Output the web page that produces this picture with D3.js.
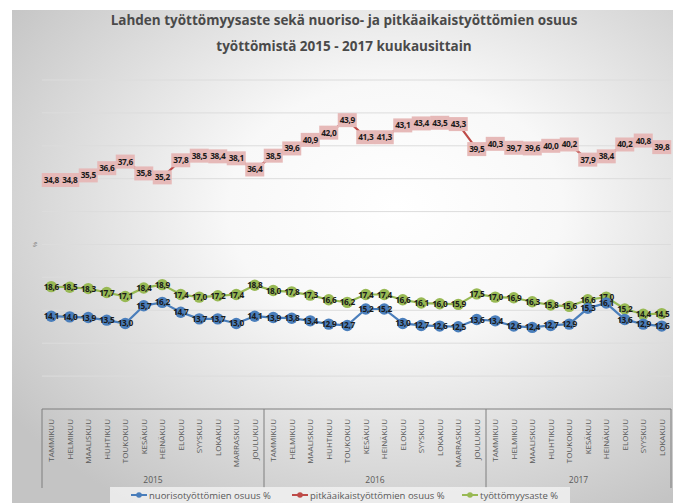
<!DOCTYPE html>
<html>
<head>
<meta charset="utf-8">
<script src="https://cdn.jsdelivr.net/npm/d3@7"></script>
<style>
  body { margin: 0; background: #fff; }
  svg text { font-family: "Open Sans", "Liberation Sans", sans-serif; }
</style>
</head>
<body>
<div id="chart"></div>
<script>
// data
var months = ["TAMMIKUU","HELMIKUU","MAALISKUU","HUHTIKUU","TOUKOKUU","KESÄKUU",
              "HEINÄKUU","ELOKUU","SYYSKUU","LOKAKUU","MARRASKUU","JOULUKUU"];
var years = ["2015", "2016", "2017"];
var monthsPerYear = [12, 12, 10];

var nuoriso = [14.1,14.0,13.9,13.5,13.0,15.7,16.2,14.7,13.7,13.7,13.0,14.1,
               13.9,13.8,13.4,12.9,12.7,15.2,15.2,13.0,12.7,12.6,12.5,13.6,
               13.4,12.6,12.4,12.7,12.9,15.3,16.1,13.6,12.9,12.6];
var pitkaaikais = [34.8,34.8,35.5,36.6,37.6,35.8,35.2,37.8,38.5,38.4,38.1,36.4,
                   38.5,39.6,40.9,42.0,43.9,41.3,41.3,43.1,43.4,43.5,43.3,39.5,
                   40.3,39.7,39.6,40.0,40.2,37.9,38.4,40.2,40.8,39.8];
var tyottomyys = [18.6,18.5,18.3,17.7,17.1,18.4,18.9,17.4,17.0,17.2,17.4,18.8,
                  18.0,17.8,17.3,16.6,16.2,17.4,17.4,16.6,16.1,16.0,15.9,17.5,
                  17.0,16.9,16.3,15.8,15.6,16.6,17.0,15.2,14.4,14.5];
var seriesNames = ["nuorisotyöttömien osuus %", "pitkäaikaistyöttömien osuus %", "työttömyysaste %"];

var width = 675, height = 503;
var plotLeft = 42, plotRight = 671, plotTop = 80, plotBottom = 409;

// build category list from months/years
var cats = [];
years.forEach(function(y, yi){
  for(var m = 0; m < monthsPerYear[yi]; m++){ cats.push({ year: y, month: months[m], key: y + "-" + m }); }
});

var svg = d3.select("#chart").append("svg")
  .attr("width", width).attr("height", height);

var defs = svg.append("defs");
var grad = defs.append("radialGradient").attr("id", "bg")
  .attr("cx", "58%").attr("cy", "40%").attr("r", "72%");
grad.append("stop").attr("offset", "0%").attr("stop-color", "#ffffff");
grad.append("stop").attr("offset", "35%").attr("stop-color", "#f8f8f8");
grad.append("stop").attr("offset", "100%").attr("stop-color", "#c4c4c4");

svg.append("rect").attr("x", 12).attr("y", 10)
  .attr("width", 661).attr("height", 493).attr("fill", "url(#bg)");

var x = d3.scaleBand().domain(cats.map(function(c){ return c.key; }))
  .range([plotLeft, plotRight]).padding(0);
var y = d3.scaleLinear().domain([0, 50]).range([plotBottom, plotTop]);

function cx(i){ return x(cats[i].key) + x.bandwidth() / 2; }
function fmt(v){ return d3.format(".1f")(v).replace(".", ","); }

// title
var title = svg.append("text").attr("text-anchor", "middle")
  .attr("font-size", 13.5).attr("font-weight", "bold").attr("fill", "#4a4a4a");
title.append("tspan").attr("x", 344).attr("y", 25)
  .text("Lahden työttömyysaste sekä nuoriso- ja pitkäaikaistyöttömien osuus");
title.append("tspan").attr("x", 344).attr("y", 51)
  .text("työttömistä 2015 - 2017 kuukausittain");

// grid
svg.append("g").selectAll("line").data(d3.range(5, 51, 5)).join("line")
  .attr("x1", plotLeft).attr("x2", plotRight)
  .attr("y1", function(d){ return y(d); }).attr("y2", function(d){ return y(d); })
  .attr("stroke", "#dcdcdc").attr("stroke-width", 1);

svg.append("text").attr("transform", "translate(37," + y(25) + ") rotate(-90)")
  .attr("text-anchor", "middle").attr("font-size", 6).attr("fill", "#777").text("%");

// category axis box
var axis = svg.append("g");
axis.append("line").attr("x1", plotLeft).attr("x2", plotRight).attr("y1", plotBottom).attr("y2", plotBottom)
  .attr("stroke", "#7f7f7f");
var bounds = [0];
monthsPerYear.forEach(function(n){ bounds.push(bounds[bounds.length - 1] + n); });
function edge(i){ return i < cats.length ? x(cats[i].key) : plotRight; }
axis.selectAll("line.sep").data(bounds).join("line").attr("class", "sep")
  .attr("x1", edge).attr("x2", edge)
  .attr("y1", plotBottom).attr("y2", 488)
  .attr("stroke", "#7f7f7f");

axis.selectAll("text.m").data(cats).join("text").attr("class", "m")
  .attr("transform", function(d, i){ return "translate(" + (cx(i) + 3) + ",419) rotate(-90)"; })
  .attr("text-anchor", "end").attr("font-size", 8).attr("fill", "#595959")
  .text(function(d){ return d.month; });

axis.selectAll("text.y").data(years).join("text").attr("class", "y")
  .attr("x", function(d, i){ return (edge(bounds[i]) + edge(bounds[i+1])) / 2; })
  .attr("y", 483).attr("text-anchor", "middle").attr("font-size", 8.5).attr("fill", "#595959")
  .text(function(d){ return d; });

// series
var colors = ["#4a7ebb", "#be4b48", "#98b954"];
var line = d3.line().x(function(d, i){ return cx(i); }).y(function(d){ return y(d); });

function drawSeries(data, color, labelBg){
  var g = svg.append("g");
  g.append("path").attr("d", line(data)).attr("fill", "none")
    .attr("stroke", color).attr("stroke-width", 2.2);
  if(labelBg){
    g.selectAll("rect").data(data).join("rect")
      .attr("x", function(d, i){ return cx(i) - 9.5; })
      .attr("y", function(d){ return y(d) - 7; })
      .attr("width", 19).attr("height", 14)
      .attr("fill", labelBg);
  } else {
    g.selectAll("circle").data(data).join("circle")
      .attr("cx", function(d, i){ return cx(i); })
      .attr("cy", function(d){ return y(d); })
      .attr("r", 5.7).attr("fill", color);
  }
  g.selectAll("text").data(data).join("text")
    .attr("x", function(d, i){ return cx(i); })
    .attr("y", function(d){ return y(d) + 3; })
    .attr("text-anchor", "middle").attr("font-size", 8.3).attr("font-weight", "bold")
    .attr("fill", "#1a1a1a").attr("letter-spacing", -0.4)
    .text(fmt);
}

drawSeries(pitkaaikais, colors[1], "#e6b9b8");
drawSeries(tyottomyys, colors[2], null);
drawSeries(nuoriso, colors[0], null);

// legend
var legend = svg.append("g");
legend.append("rect").attr("x", 110).attr("y", 487).attr("width", 460).attr("height", 16)
  .attr("fill", "#f2f2f2").attr("opacity", 0.8);
var legX = [131, 292, 462];
seriesNames.forEach(function(name, i){
  var it = legend.append("g").attr("transform", "translate(" + legX[i] + ",495)");
  it.append("line").attr("x1", 0).attr("x2", 16).attr("stroke", colors[i]).attr("stroke-width", 2);
  it.append("circle").attr("cx", 8).attr("r", 2.8).attr("fill", colors[i]);
  it.append("text").attr("x", 18).attr("y", 3.5).attr("font-size", 9.5).attr("fill", "#595959").text(name);
});
</script>
</body>
</html>
